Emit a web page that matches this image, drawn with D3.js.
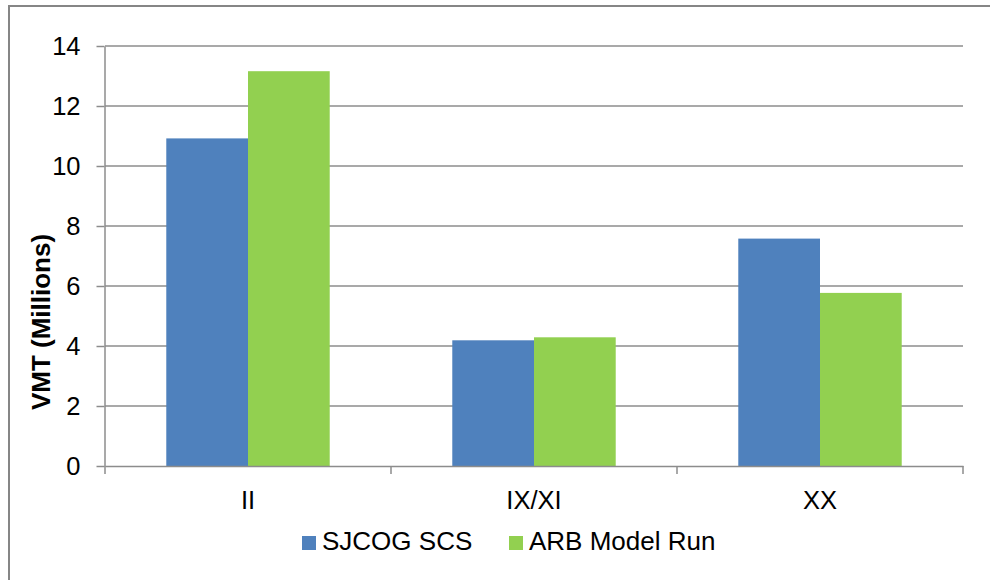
<!DOCTYPE html>
<html>
<head>
<meta charset="utf-8">
<script src="https://cdn.jsdelivr.net/npm/d3@7"></script>
<style>
  html, body { margin: 0; padding: 0; background: #fff; }
  svg { display: block; }
  text { font-family: "Liberation Sans", Arial, sans-serif; fill: #000; }
</style>
</head>
<body>
<svg id="chart" width="990" height="580"></svg>
<script>
// Vehicle miles travelled by region, in millions
const categories = ["II", "IX/XI", "XX"];
const seriesNames = ["SJCOG SCS", "ARB Model Run"];
const sjcogValues = [10.92, 4.19, 7.58];
const arbValues = [13.16, 4.29, 5.77];
const yTicks = [0, 2, 4, 6, 8, 10, 12, 14];
const seriesColors = ["#4F81BD", "#92D050"];

const seriesValues = [sjcogValues, arbValues];
const rows = categories.map((c, i) => ({
  category: c,
  values: seriesNames.map((s, j) => ({ series: s, value: seriesValues[j][i] }))
}));

const svg = d3.select("#chart");
const plot = { left: 105, right: 963, top: 46, bottom: 466 };
const gridColor = "#8c8c8c";

// Chart area frame
svg.append("rect")
  .attr("x", 9).attr("y", 6)
  .attr("width", 1000).attr("height", 600)
  .attr("fill", "none")
  .attr("stroke", "#868686")
  .attr("stroke-width", 2);

const x0 = d3.scaleBand().domain(categories).range([plot.left, plot.right]).padding(0);
const x1 = d3.scaleBand().domain(seriesNames).range([0, x0.bandwidth()])
  .paddingInner(0).paddingOuter(0.75);
const y = d3.scaleLinear().domain([0, 14]).range([plot.bottom, plot.top]);
const color = d3.scaleOrdinal().domain(seriesNames).range(seriesColors);

// Horizontal gridlines
svg.append("g")
  .selectAll("line")
  .data(yTicks.filter(t => t > 0))
  .join("line")
  .attr("x1", plot.left).attr("x2", plot.right)
  .attr("y1", d => y(d)).attr("y2", d => y(d))
  .attr("stroke", gridColor)
  .attr("stroke-width", 1.5);

// Bars
svg.append("g")
  .selectAll("g")
  .data(rows)
  .join("g")
  .attr("transform", d => `translate(${x0(d.category)},0)`)
  .selectAll("rect")
  .data(d => d.values)
  .join("rect")
  .attr("x", d => x1(d.series))
  .attr("y", d => y(d.value))
  .attr("width", x1.bandwidth())
  .attr("height", d => y(0) - y(d.value))
  .attr("fill", d => color(d.series));

// Y axis
const yAxis = svg.append("g")
  .attr("transform", `translate(${plot.left - 0.5},0)`)
  .call(d3.axisLeft(y).tickValues(yTicks).tickSize(8).tickPadding(16).tickSizeOuter(0));
yAxis.select(".domain").attr("stroke", gridColor).attr("stroke-width", 1.5);
yAxis.selectAll(".tick line").attr("stroke", gridColor).attr("stroke-width", 1.5);
yAxis.selectAll(".tick text")
  .style("font-family", '"Liberation Sans", Arial, sans-serif')
  .style("font-size", "25.5px")
  .attr("fill", "#000")
  .attr("dy", "0.34em");

// X axis
const xAxis = svg.append("g")
  .attr("transform", `translate(0,${plot.bottom})`)
  .call(d3.axisBottom(x0).tickSize(0).tickPadding(25).tickSizeOuter(0));
xAxis.select(".domain").attr("stroke", gridColor).attr("stroke-width", 1.5);
xAxis.selectAll(".tick text")
  .style("font-family", '"Liberation Sans", Arial, sans-serif')
  .style("font-size", "25.5px")
  .attr("fill", "#000");

// Category separators below the axis
const seps = [plot.left, ...categories.map(c => x0(c) + x0.bandwidth())];
svg.append("g")
  .selectAll("line")
  .data(seps)
  .join("line")
  .attr("x1", d => d).attr("x2", d => d)
  .attr("y1", plot.bottom).attr("y2", plot.bottom + 8)
  .attr("stroke", gridColor)
  .attr("stroke-width", 1.5);

// Y axis title
svg.append("text")
  .attr("transform", "translate(50,322) rotate(-90)")
  .attr("text-anchor", "middle")
  .style("font-size", "26px")
  .style("font-weight", "bold")
  .text("VMT (Millions)");

// Legend
const legendItems = [
  { name: seriesNames[0], x: 302 },
  { name: seriesNames[1], x: 509 }
];
const legend = svg.append("g");
legendItems.forEach(item => {
  legend.append("rect")
    .attr("x", item.x).attr("y", 536)
    .attr("width", 14).attr("height", 14)
    .attr("fill", color(item.name));
  legend.append("text")
    .attr("x", item.x + 20).attr("y", 550)
    .style("font-size", "26px")
    .text(item.name);
});
</script>
</body>
</html>
